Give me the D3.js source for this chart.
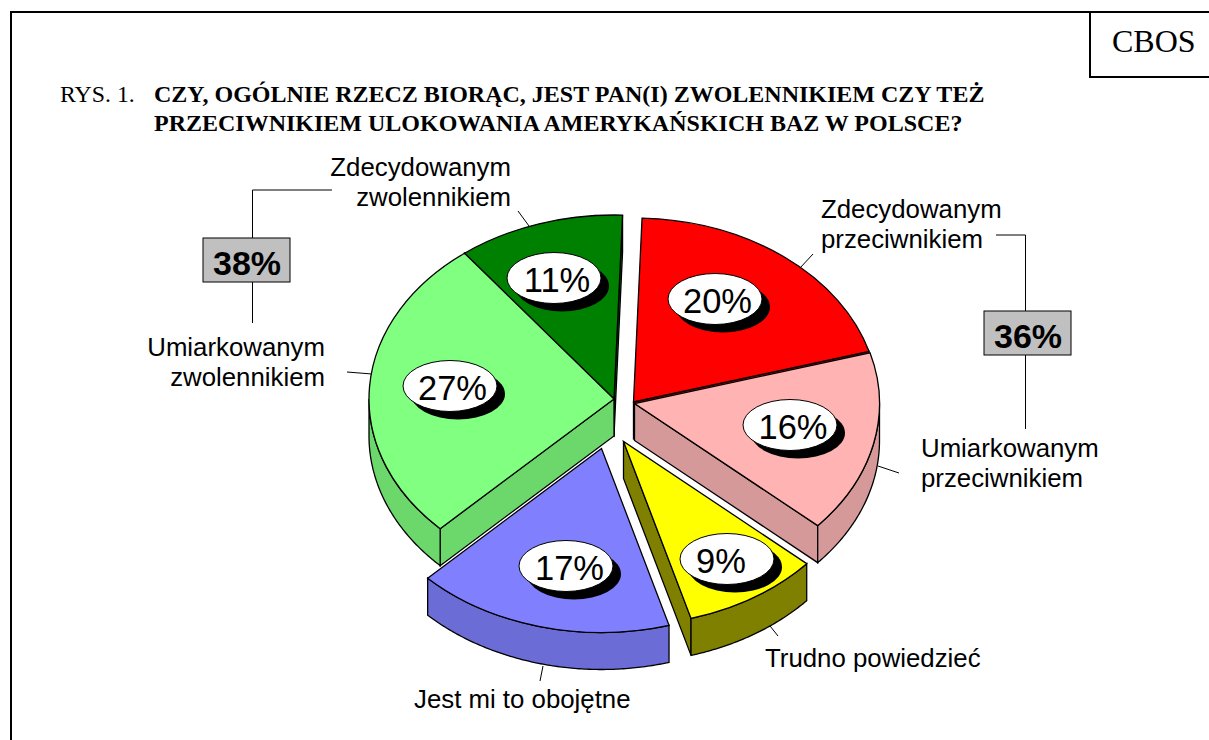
<!DOCTYPE html>
<html lang="pl">
<head>
<meta charset="utf-8">
<script src="https://d3js.org/d3.v7.min.js"></script>
<style>
    body { margin: 0; background: #fff; }
    svg { display: block; }
    .serif { font-family: "Liberation Serif", "Times New Roman", serif; fill: #000; }
    .sans { font-family: "Liberation Sans", Arial, sans-serif; fill: #000; }
    .edge { stroke: #000; stroke-width: 1.3; stroke-linejoin: miter; vector-effect: non-scaling-stroke; }
    .thin { stroke: #000; stroke-width: 1; fill: none; }
</style>
</head>
<body>
<div id="my_dataviz"></div>
<script>

    // data
    const categories = ["Zdecydowanym przeciwnikiem", "Umiarkowanym przeciwnikiem", "Trudno powiedzieć",
        "Jest mi to obojętne", "Umiarkowanym zwolennikiem", "Zdecydowanym zwolennikiem"];
    const values = [20, 16, 9, 17, 27, 11];
    const groupValues = [38, 36];
    const titleLines = ["CZY, OGÓLNIE RZECZ BIORĄC, JEST PAN(I) ZWOLENNIKIEM CZY TEŻ",
        "PRZECIWNIKIEM ULOKOWANIA AMERYKAŃSKICH BAZ W POLSCE?"];

    // colours, same order as categories
    const topColors = ["#ff0000", "#ffb3b3", "#ffff00", "#8080ff", "#80ff80", "#008000"];
    const wallColors = ["#d80000", "#d69999", "#808000", "#6c6cd6", "#6cd86c", "#006c00"];

    const width = 1209, height = 740;

    // pie geometry: ellipse radii, height of the walls, first slice angle
    const rx = 245, ry = 184, depth = 37;
    const startAngle = 2 * Math.PI / 180;

    // where the apex of each slice and its oval sit (exploded pie)
    const apex = [[633.5, 402], [634.5, 403.5], [623.5, 441.5], [601.5, 448.5], [614, 399], [614, 399]];
    const ovals = [[715, 299], [790, 425], [727, 559], [566, 566], [450, 386], [554, 278]];
    const ovalTextShift = [2.5, 3, -6, 3.5, 2.5, 3];
    const drawOrder = [5, 0, 4, 1, 3, 2];

    const svg = d3.select("#my_dataviz")
        .append("svg")
        .attr("width", width)
        .attr("height", height);

    // page frame and the CBOS box
    const frame = d3.line();
    svg.append("path").attr("d", frame([[11, 740], [11, 12], [1209, 12]]))
        .attr("fill", "none").attr("stroke", "#000").attr("stroke-width", 2);
    svg.append("path").attr("d", frame([[1090, 12], [1090, 77], [1209, 77]]))
        .attr("fill", "none").attr("stroke", "#000").attr("stroke-width", 2);
    svg.append("text").attr("class", "serif").attr("x", 1112).attr("y", 52)
        .attr("font-size", 32).text("CBOS");

    // title
    svg.append("text").attr("class", "serif").attr("x", 60).attr("y", 101.5)
        .attr("font-size", 23.8).text("RYS. 1.");
    svg.selectAll(".title").data(titleLines).enter().append("text")
        .attr("class", "serif title")
        .attr("x", 154).attr("y", (d, i) => 101.5 + i * 29)
        .attr("font-size", 24).attr("font-weight", "bold")
        .text(d => d);

    // slices
    const slices = d3.pie().sort(null)
        .startAngle(startAngle).endAngle(startAngle + 2 * Math.PI)(values);

    const arc = d3.arc().innerRadius(0).outerRadius(rx);
    const polygon = d3.line();
    const onRim = a => [rx * Math.sin(a), -ry * Math.cos(a)];

    // the outer wall between two angles, as a closed outline
    function rimWall(a0, a1) {
        const angles = d3.range(a0, a1, 0.01).concat([a1]);
        const upper = angles.map(onRim);
        const lower = upper.map(p => [p[0], p[1] + depth]).reverse();
        return polygon(upper.concat(lower)) + "Z";
    }

    // the flat cut wall along one radius
    function cutWall(a) {
        const p = onRim(a);
        return polygon([[0, 0], p, [p[0], p[1] + depth], [0, depth]]) + "Z";
    }

    drawOrder.forEach(i => {
        const s = slices[i];
        const g = svg.append("g").attr("transform", `translate(${apex[i][0]},${apex[i][1]})`);

        const walls = [];
        if (Math.sin(s.startAngle) < 0) walls.push(cutWall(s.startAngle));
        if (Math.sin(s.endAngle) > 0) walls.push(cutWall(s.endAngle));
        const a0 = Math.max(s.startAngle, Math.PI / 2), a1 = Math.min(s.endAngle, 3 * Math.PI / 2);
        if (a0 < a1) walls.push(rimWall(a0, a1));

        g.selectAll(".wall").data(walls).enter().append("path")
            .attr("class", "edge wall")
            .attr("fill", wallColors[i])
            .attr("d", d => d);

        g.append("path")
            .attr("class", "edge")
            .attr("fill", topColors[i])
            .attr("transform", `scale(1,${ry / rx})`)
            .attr("d", arc(s));
    });

    // percentage ovals with their black shadow
    const ovalRx = 47, ovalRy = 25.5, shadow = 8;
    const labels = svg.selectAll(".oval").data(values).enter().append("g")
        .attr("class", "oval")
        .attr("transform", (d, i) => `translate(${ovals[i][0]},${ovals[i][1]})`);
    labels.append("ellipse").attr("cx", shadow).attr("cy", shadow)
        .attr("rx", ovalRx).attr("ry", ovalRy).attr("fill", "#000");
    labels.append("ellipse").attr("rx", ovalRx).attr("ry", ovalRy)
        .attr("fill", "#fff").attr("stroke", "#000").attr("stroke-width", 1);
    labels.append("text").attr("class", "sans")
        .attr("text-anchor", "middle").attr("y", 14)
        .attr("x", (d, i) => ovalTextShift[i])
        .attr("font-size", 34.5)
        .text(d => d + "%");

    // category labels, split over two lines where the picture does
    const labelPlace = [
        { x: 821, y: 218, anchor: "start" },
        { x: 921, y: 457, anchor: "start" },
        { x: 765, y: 667, anchor: "start" },
        { x: 414, y: 708, anchor: "start" },
        { x: 325, y: 356, anchor: "end" },
        { x: 511, y: 176, anchor: "end" }
    ];
    categories.forEach((c, i) => {
        const words = i === 2 || i === 3 ? [c] : c.split(" ");
        svg.selectAll(".cat" + i).data(words).enter().append("text")
            .attr("class", "sans cat" + i)
            .attr("x", labelPlace[i].x)
            .attr("y", (d, k) => labelPlace[i].y + k * 29.5)
            .attr("text-anchor", labelPlace[i].anchor)
            .attr("font-size", 25.8)
            .text(d => d);
    });

    // leader lines from labels to the pie
    const leaders = [
        [[813, 254], [800, 268]],
        [[878, 466], [899, 473]],
        [[770, 626], [778, 636]],
        [[543, 666], [540, 681]],
        [[347, 372], [372, 374]],
        [[518, 211], [529, 226]]
    ];
    svg.selectAll(".leader").data(leaders).enter().append("path")
        .attr("class", "thin leader").attr("d", d => polygon(d));

    // group sums with their brackets
    const brackets = [
        { points: [[332, 190], [252.5, 190], [252.5, 323]], box: [203, 238], textY: 274.5 },
        { points: [[996, 235], [1025.5, 235], [1025.5, 429]], box: [984, 311], textY: 347.5 }
    ];
    brackets.forEach((b, i) => {
        svg.append("path").attr("class", "thin").attr("d", polygon(b.points));
        svg.append("rect").attr("x", b.box[0]).attr("y", b.box[1])
            .attr("width", 87).attr("height", 44)
            .attr("fill", "#c0c0c0").attr("stroke", "#000").attr("stroke-width", 1);
        svg.append("text").attr("class", "sans")
            .attr("x", b.box[0] + 44).attr("y", b.textY)
            .attr("text-anchor", "middle").attr("font-size", 34).attr("font-weight", "bold")
            .text(groupValues[i] + "%");
    });

</script>
</body>
</html>
